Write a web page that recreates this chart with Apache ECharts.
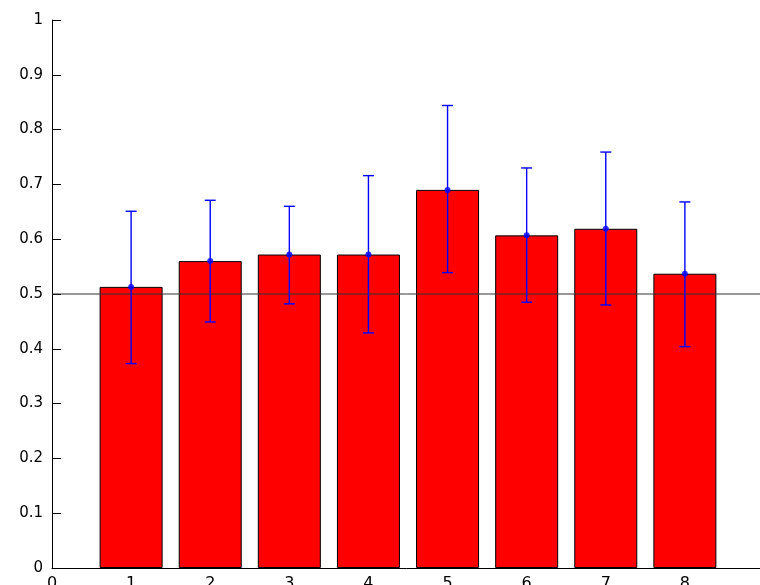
<!DOCTYPE html>
<html>
<head>
<meta charset="utf-8">
<script src="https://cdn.jsdelivr.net/npm/echarts@6/dist/echarts.min.js"></script>
<style>
  html, body { margin: 0; padding: 0; background: #fff; }
  #chart { width: 760px; height: 585px; }
</style>
</head>
<body>
<div id="chart"></div>
<script>
// Group positions along x and their mean scores
const groups = [1, 2, 3, 4, 5, 6, 7, 8];
const means = [0.513, 0.560, 0.572, 0.572, 0.690, 0.607, 0.619, 0.537];
// Upper and lower ends of each error bar
const upper = [0.651, 0.671, 0.660, 0.716, 0.844, 0.730, 0.759, 0.668];
const lower = [0.373, 0.449, 0.482, 0.429, 0.539, 0.485, 0.480, 0.404];
// Reference level drawn across the plot
const chanceLevel = 0.5;
const xTicks = [0, 1, 2, 3, 4, 5, 6, 7, 8, 9];
const yTicks = [0, 0.1, 0.2, 0.3, 0.4, 0.5, 0.6, 0.7, 0.8, 0.9, 1];

const barData = groups.map((g, i) => [g, means[i]]);
const errData = groups.map((g, i) => [g, lower[i], upper[i]]);

const font = 'DejaVu Sans, Verdana, sans-serif';

const chart = echarts.init(document.getElementById('chart'), null, { renderer: 'canvas' });

chart.setOption({
  animation: false,
  backgroundColor: '#ffffff',
  grid: {
    left: 52, top: 20, width: 712, height: 548,
    containLabel: false,
    outerBoundsMode: 'none'
  },
  xAxis: {
    type: 'value',
    min: xTicks[0],
    max: xTicks[xTicks.length - 1],
    interval: 1,
    axisLine: { show: true, onZero: false, lineStyle: { color: '#000', width: 1 } },
    axisTick: { show: false },
    splitLine: { show: false },
    axisLabel: {
      color: '#000', fontFamily: font, fontSize: 16, margin: 8,
      formatter: v => String(v)
    }
  },
  yAxis: {
    type: 'value',
    min: yTicks[0],
    max: yTicks[yTicks.length - 1],
    interval: 0.1,
    axisLine: { show: true, onZero: false, lineStyle: { color: '#000', width: 1 } },
    axisTick: { show: true, inside: true, length: 9, lineStyle: { color: '#000', width: 1 } },
    splitLine: { show: false },
    axisLabel: {
      color: '#000', fontFamily: font, fontSize: 15, margin: 9,
      formatter: v => String(Math.round(v * 10) / 10)
    }
  },
  series: [
    {
      type: 'bar',
      data: barData,
      barWidth: 63,
      z: 2,
      itemStyle: { color: '#ff0000', borderColor: '#000', borderWidth: 1 }
    },
    {
      // horizontal reference line across the whole plot
      type: 'line',
      data: [[xTicks[0], chanceLevel], [xTicks[xTicks.length - 1], chanceLevel]],
      symbol: 'none',
      silent: true,
      z: 3,
      lineStyle: { color: '#333', width: 1 }
    },
    {
      type: 'custom',
      z: 4,
      silent: true,
      data: errData,
      renderItem: function (params, api) {
        const x = api.value(0);
        const lo = api.coord([x, api.value(1)]);
        const hi = api.coord([x, api.value(2)]);
        const cap = 5.5;
        const style = { stroke: '#0000ff', lineWidth: 1.4 };
        return {
          type: 'group',
          children: [
            { type: 'line', shape: { x1: lo[0], y1: lo[1], x2: hi[0], y2: hi[1] }, style },
            { type: 'line', shape: { x1: hi[0] - cap, y1: hi[1], x2: hi[0] + cap, y2: hi[1] }, style },
            { type: 'line', shape: { x1: lo[0] - cap, y1: lo[1], x2: lo[0] + cap, y2: lo[1] }, style }
          ]
        };
      }
    },
    {
      type: 'scatter',
      data: barData,
      symbol: 'circle',
      symbolSize: 6,
      z: 5,
      silent: true,
      itemStyle: { color: '#0000ff' }
    }
  ]
});
</script>
</body>
</html>
